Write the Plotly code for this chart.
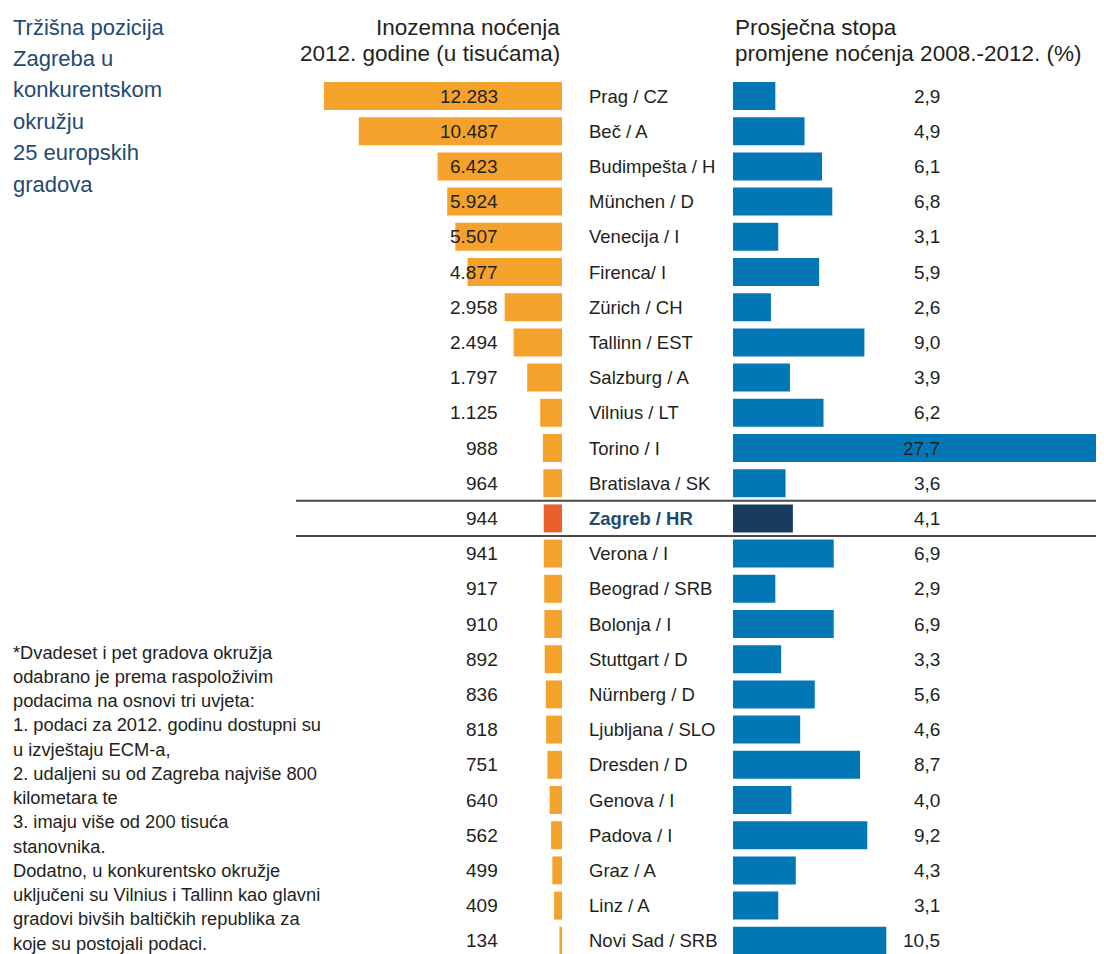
import plotly.graph_objects as go

cities = ["Prag / CZ", "Beč / A", "Budimpešta / H", "München / D", "Venecija / I",
          "Firenca/ I", "Zürich / CH", "Tallinn / EST", "Salzburg / A", "Vilnius / LT",
          "Torino / I", "Bratislava / SK", "Zagreb / HR", "Verona / I", "Beograd / SRB",
          "Bolonja / I", "Stuttgart / D", "Nürnberg / D", "Ljubljana / SLO", "Dresden / D",
          "Genova / I", "Padova / I", "Graz / A", "Linz / A", "Novi Sad / SRB"]
nights = [12283, 10487, 6423, 5924, 5507, 4877, 2958, 2494, 1797, 1125, 988, 964, 944,
          941, 917, 910, 892, 836, 818, 751, 640, 562, 499, 409, 134]
growth = [2.9, 4.9, 6.1, 6.8, 3.1, 5.9, 2.6, 9.0, 3.9, 6.2, 27.7, 3.6, 4.1, 6.9, 2.9,
          6.9, 3.3, 5.6, 4.6, 8.7, 4.0, 9.2, 4.3, 3.1, 10.5]
highlight = "Zagreb / HR"

title_lines = ["Tržišna pozicija", "Zagreba u", "konkurentskom", "okružju",
               "25 europskih", "gradova"]
left_header = ["Inozemna noćenja", "2012. godine (u tisućama)"]
right_header = ["Prosječna stopa", "promjene noćenja 2008.-2012. (%)"]
note_lines = ["*Dvadeset i pet gradova okružja", "odabrano je prema raspoloživim",
              "podacima na osnovi tri uvjeta:", "1. podaci za 2012. godinu dostupni su",
              "u izvještaju ECM-a,", "2. udaljeni su od Zagreba najviše 800",
              "kilometara te", "3. imaju više od 200 tisuća", "stanovnika.",
              "Dodatno, u konkurentsko okružje", "uključeni su Vilnius i Tallinn kao glavni",
              "gradovi bivših baltičkih republika za", "koje su postojali podaci."]

# page offset (browser body margin) compensation
OFF = 8
W, H = 1104 - OFF, 954 - OFF
FONT = "Liberation Sans, Arial, sans-serif"
ORANGE, ORANGE_HL = "#F5A22D", "#E8612C"
BLUE, BLUE_HL = "#0277B6", "#183B5E"
NAVY = "#1F4A72"
TXT = "#231F20"

n = len(cities)
idx = list(range(n))
row_top_px, row_step_px = 96 - OFF, 35.2
y_top = -row_top_px / row_step_px
y_bot = (H - row_top_px) / row_step_px
bar_split_px = 562 - OFF
blue_start_px = 733 - OFF
orange_px_per_unit = 238 / 12283
blue_px_per_unit = 14.6


def px(rx):
    return (rx - OFF) / W


def py(ry):
    return 1 - (ry - OFF) / H


def fmt_int(v):
    return f"{v:,}".replace(",", ".")


def fmt_dec(v):
    return f"{v:.1f}".replace(".", ",")


fig = go.Figure()
fig.add_trace(go.Bar(
    x=nights, y=idx, orientation="h", width=0.795,
    marker=dict(color=[ORANGE_HL if c == highlight else ORANGE for c in cities], line_width=0),
    xaxis="x", yaxis="y", hoverinfo="skip"))
fig.add_trace(go.Bar(
    x=growth, y=idx, orientation="h", width=0.795,
    marker=dict(color=[BLUE_HL if c == highlight else BLUE for c in cities], line_width=0),
    xaxis="x2", yaxis="y", hoverinfo="skip"))

ann = []
for i, (c, v, g) in enumerate(zip(cities, nights, growth)):
    hl = c == highlight
    ann.append(dict(x=px(500), y=i, xref="paper", yref="y", text=fmt_int(v),
                    xanchor="right", yanchor="middle", showarrow=False,
                    font=dict(size=19, color=TXT)))
    ann.append(dict(x=px(587), y=i, xref="paper", yref="y",
                    text=f"<b>{c}</b>" if hl else c,
                    xanchor="left", yanchor="middle", showarrow=False,
                    font=dict(size=18.5, color=NAVY if hl else TXT)))
    ann.append(dict(x=px(942), y=i, xref="paper", yref="y", text=fmt_dec(g),
                    xanchor="right", yanchor="middle", showarrow=False,
                    font=dict(size=19, color=TXT)))

for k, t in enumerate(title_lines):
    ann.append(dict(x=px(11), y=py(27 + 31.4 * k), xref="paper", yref="paper",
                    text=t, xanchor="left", yanchor="middle", showarrow=False,
                    font=dict(size=22, color=NAVY)))
for k, t in enumerate(left_header):
    ann.append(dict(x=px(562), y=py(27 + 27 * k), xref="paper", yref="paper",
                    text=t, xanchor="right", yanchor="middle", showarrow=False,
                    font=dict(size=22.5, color=TXT)))
for k, t in enumerate(right_header):
    ann.append(dict(x=px(733), y=py(27 + 27 * k), xref="paper", yref="paper",
                    text=t, xanchor="left", yanchor="middle", showarrow=False,
                    font=dict(size=22.5, color=TXT)))
for k, t in enumerate(note_lines):
    ann.append(dict(x=px(11), y=py(652 + 24.25 * k), xref="paper", yref="paper",
                    text=t, xanchor="left", yanchor="middle", showarrow=False,
                    font=dict(size=18.3, color=TXT)))

hl_i = cities.index(highlight)
shapes = []
for yy in (hl_i - 0.5, hl_i + 0.5):
    shapes.append(dict(type="line", xref="paper", yref="y", x0=px(296), x1=1,
                       y0=yy, y1=yy, line=dict(color="#4A4A4A", width=2)))

fig.update_layout(
    width=W, height=H, margin=dict(l=0, r=0, t=0, b=0),
    paper_bgcolor="white", plot_bgcolor="rgba(0,0,0,0)",
    showlegend=False, barmode="overlay", font=dict(family=FONT, color=TXT),
    xaxis=dict(domain=[0, bar_split_px / W],
               range=[bar_split_px / orange_px_per_unit, 0],
               visible=False, fixedrange=True),
    xaxis2=dict(domain=[blue_start_px / W, 1],
                range=[0, (W - blue_start_px) / blue_px_per_unit],
                visible=False, fixedrange=True),
    yaxis=dict(range=[y_bot, y_top], visible=False, fixedrange=True),
    annotations=ann, shapes=shapes)

fig.write_html("out.html")
